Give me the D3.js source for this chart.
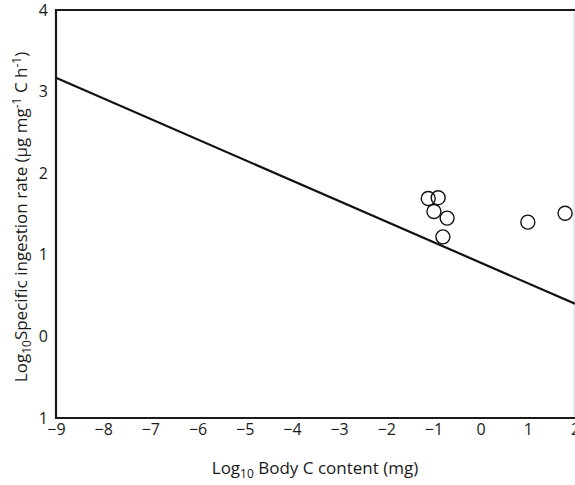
<!DOCTYPE html>
<html><head><meta charset="utf-8">
<script src="https://cdn.jsdelivr.net/npm/d3@7"></script>
<style>body{margin:0;background:#fff;}svg{display:block;font-family:"Open Sans",sans-serif;}</style>
</head><body>
<script>
// Data
const pointsX = [-1.11, -0.90, -0.99, -0.71, -0.80, 1.00, 1.79];
const pointsY = [1.69, 1.70, 1.53, 1.45, 1.22, 1.40, 1.51];
const lineX = [-9, 2];
const lineY = [3.17, 0.40];
const xTicks = [-9, -8, -7, -6, -5, -4, -3, -2, -1, 0, 1, 2];
const xTickLabels = ["−9","−8","−7","−6","−5","−4","−3","−2","−1","0","1","2"];
const yTicks = [-1, 0, 1, 2, 3, 4];
const yTickLabels = ["1","0","1","2","3","4"];

const W = 575, H = 485;
const svg = d3.select("body").append("svg").attr("width", W).attr("height", H);
const x = d3.scaleLinear().domain([-9, 2]).range([56, 575]);
const y = d3.scaleLinear().domain([-1, 4]).range([418, 10]);

// frame
svg.append("line").attr("x1", x(2) - 1).attr("x2", x(2) - 1).attr("y1", y(4)).attr("y2", y(-1))
  .attr("stroke", "#d0d0d0").attr("stroke-width", 1);
svg.append("path")
  .attr("d", `M${x(2)},${y(4)}H${x(-9)}V${y(-1)}H${x(2)}`)
  .attr("fill", "none").attr("stroke", "#1a1a1a").attr("stroke-width", 2.2);

// axes
const xAxis = d3.axisBottom(x).tickValues(xTicks).tickSize(0).tickPadding(6)
  .tickFormat((d, i) => xTickLabels[i]);
const gx = svg.append("g").attr("transform", `translate(0,${y(-1)})`).call(xAxis);
gx.select(".domain").remove();
gx.selectAll("text").attr("font-size", 16).attr("fill", "#1a1a1a").attr("font-family", "'Open Sans',sans-serif");

const yAxis = d3.axisLeft(y).tickValues(yTicks).tickSize(0).tickPadding(8)
  .tickFormat((d, i) => yTickLabels[i]);
const gy = svg.append("g").attr("transform", `translate(${x(-9)},0)`).call(yAxis);
gy.select(".domain").remove();
gy.selectAll("text").attr("font-size", 16).attr("fill", "#1a1a1a").attr("font-family", "'Open Sans',sans-serif");

// regression line
svg.append("line")
  .attr("x1", x(lineX[0])).attr("y1", y(lineY[0]))
  .attr("x2", x(lineX[1])).attr("y2", y(lineY[1]))
  .attr("stroke", "#111").attr("stroke-width", 2.2);

// points
svg.append("g").selectAll("circle").data(pointsX).join("circle")
  .attr("cx", d => x(d)).attr("cy", (d, i) => y(pointsY[i])).attr("r", 7)
  .attr("fill", "none").attr("stroke", "#111").attr("stroke-width", 1.4);

// x label
const xl = svg.append("text").attr("x", 315).attr("y", 474).attr("text-anchor", "middle")
  .attr("font-size", 17).attr("fill", "#1a1a1a");
xl.append("tspan").text("Log");
xl.append("tspan").attr("font-size", 12).attr("dy", 4).text("10");
xl.append("tspan").attr("dy", -4).text(" Body C content (mg)");

// y label
const yl = svg.append("text").attr("transform", "translate(27,217) rotate(-90)")
  .attr("text-anchor", "middle").attr("font-size", 17).attr("fill", "#1a1a1a");
yl.append("tspan").text("Log");
yl.append("tspan").attr("font-size", 12).attr("dy", 4).text("10");
yl.append("tspan").attr("dy", -4).text("Specific ingestion rate (µg mg");
yl.append("tspan").attr("font-size", 12).attr("dy", -6).text("-1");
yl.append("tspan").attr("dy", 6).text(" C h");
yl.append("tspan").attr("font-size", 12).attr("dy", -6).text("-1");
yl.append("tspan").attr("dy", 6).text(")");
</script>
</body></html>
